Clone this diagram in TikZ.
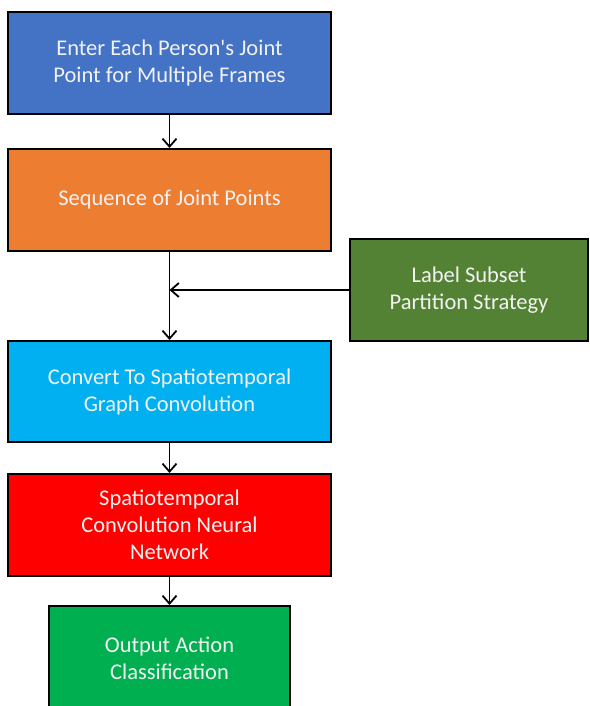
\documentclass[tikz,border=0pt]{standalone}
\usepackage{fontspec}
\setmainfont{Carlito}
\usetikzlibrary{arrows.meta}
\definecolor{cBlue}{HTML}{4472C4}
\definecolor{cOrange}{HTML}{ED7D31}
\definecolor{cOlive}{HTML}{548235}
\definecolor{cCyan}{HTML}{00B0F0}
\definecolor{cRed}{HTML}{FF0000}
\definecolor{cGreen}{HTML}{00B050}
\definecolor{cText}{HTML}{F2F2F2}
\tikzset{
  stagebox/.style={draw=black, line width=2pt, rectangle, text=cText,
    align=center, inner sep=0pt, minimum height=102pt,
    font=\fontsize{22.5}{27}\selectfont},
  flow/.style={draw=black, line width=1.8pt, -{Straight Barb[length=8pt,width=14pt,line width=1.8pt]}}
}
\begin{document}
\begin{tikzpicture}[x=1pt,y=-1pt]
  \useasboundingbox (0,0) rectangle (589,706);
  \node[stagebox, fill=cBlue, minimum width=323pt] (b1) at (169.5,63)
    {Enter Each Person\textquotesingle s Joint\\Point for Multiple Frames};
  \node[stagebox, fill=cOrange, minimum width=323pt] (b2) at (169.5,200)
    {Sequence of Joint Points};
  \node[stagebox, fill=cOlive, minimum width=238pt] (b3) at (469,290)
    {Label Subset\\Partition Strategy};
  \node[stagebox, fill=cCyan, minimum width=323pt, minimum height=101pt] (b4) at (169.5,391.5)
    {Convert To Spatiotemporal\\Graph Convolution};
  \node[stagebox, fill=cRed, minimum width=323pt] (b5) at (169.5,525)
    {Spatiotemporal\\Convolution Neural\\Network};
  \node[stagebox, fill=cGreen, minimum width=241pt, minimum height=104pt] (b6) at (169.5,658)
    {Output Action\\Classification};
  \coordinate (join) at (b2.south |- b3.west);
  \draw[flow] (b1.south) -- (b2.north);
  \draw[flow] (b2.south) -- (b4.north);
  \draw[flow] (b3.west) -- (join);
  \draw[flow] (b4.south) -- (b5.north);
  \draw[flow] (b5.south) -- (b6.north);
\end{tikzpicture}
\end{document}
